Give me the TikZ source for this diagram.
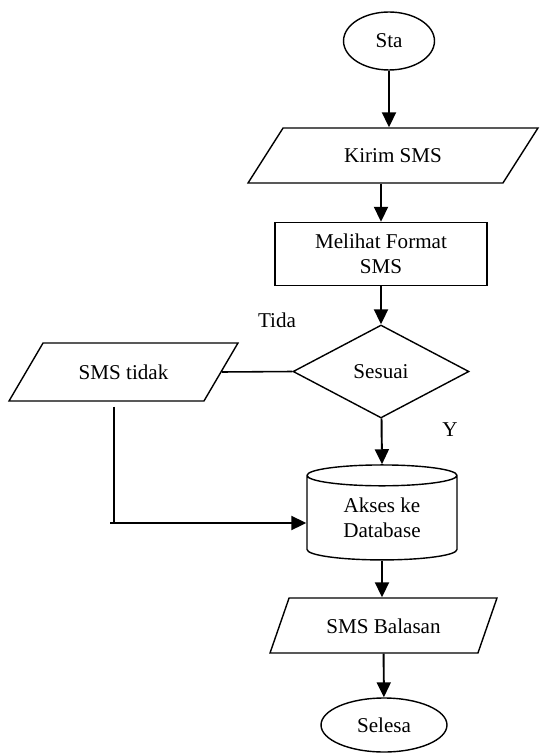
\documentclass[tikz,border=0pt]{standalone}
\usepackage{fontspec}
\setmainfont{Liberation Serif}
\usetikzlibrary{shapes.geometric, arrows.meta}

\tikzset{
  base/.style={draw, line width=0.8pt, font=\fontsize{12}{14}\selectfont, inner sep=0pt, align=center},
  terminal/.style={base, ellipse},
  io/.style={base, trapezium, trapezium stretches body},
  process/.style={base, rectangle},
  decision/.style={base, diamond},
  storage/.style={base, cylinder, shape border rotate=90, aspect=0.27},
  flow/.style={line width=1.1pt, -{Triangle[length=0.3cm, width=0.28cm]}},
  link/.style={line width=0.9pt},
}

\begin{document}
\begin{tikzpicture}[x=0.02cm, y=-0.02cm]

        \useasboundingbox (0,0) rectangle (539,753);

        \node[terminal, minimum width=1.82cm, minimum height=1.16cm] (start) at (389,41) {Sta};
        \node[io, trapezium left angle=57.5, trapezium right angle=122.5, text height=0.7cm, text depth=0.4cm,
              minimum width=5.8cm] (kirim) at (393,155.5) {Kirim SMS};
        \node[process, minimum width=4.24cm, minimum height=1.26cm] (format) at (381,254) {Melihat Format\\SMS};
        \node[decision, minimum width=3.52cm, minimum height=1.86cm] (sesuai) at (381,371.5) {Sesuai};
        \node[io, trapezium left angle=59.6, trapezium right angle=120.4, text height=0.73cm, text depth=0.43cm,
              minimum width=4.58cm] (tidak) at (123.5,372) {SMS tidak};
        \node[storage, minimum width=3cm, minimum height=1.9cm] (akses) at (382,518) {Akses ke\\Database};
        \node[io, trapezium left angle=70.9, trapezium right angle=109.1, text height=0.7cm, text depth=0.4cm,
              minimum width=4.54cm] (balasan) at (383.5,625.5) {SMS Balasan};
        \node[terminal, minimum width=2.52cm, minimum height=1.08cm] (selesai) at (384,725) {Selesa};

        \node[font=\fontsize{12}{14}\selectfont] (tida) at (277,320) {Tida};
        \node[font=\fontsize{12}{14}\selectfont] (ya) at (450,430) {Y};

        \coordinate (turn) at (114,523);

        \draw[flow] (start) -- (start |- kirim.north);
        \draw[flow] (format.north |- kirim.south) -- (format.north);
        \draw[flow] (format) -- (sesuai.north);
        \draw[flow] (sesuai) -- (akses.north);
        \draw[flow] (akses) -- (akses |- balasan.north);
        \draw[flow] (balasan) -- (selesai);

        \draw[link] (sesuai.west) -- (tidak.east);
        \draw[link] ([yshift=-0.1cm]tidak.south -| turn) -- (turn);
        \draw[flow] ([xshift=-0.08cm]turn) -- (turn -| akses.west);
    \end{tikzpicture}
\end{document}
